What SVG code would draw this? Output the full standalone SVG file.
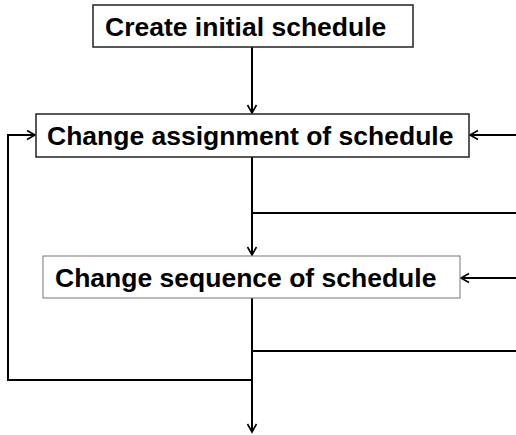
<svg xmlns="http://www.w3.org/2000/svg" width="516" height="435" viewBox="0 0 516 435">
<style>
.box{fill:#fff;stroke:#222;stroke-width:1.5}
.lbl{font-family:"Liberation Sans",Arial,sans-serif;font-weight:bold;font-size:26.5px;fill:#000}
.ln{fill:none;stroke:#000;stroke-width:2}
</style>
<defs>
<marker id="ah" markerUnits="userSpaceOnUse" markerWidth="12" markerHeight="12" refX="9" refY="5.5" orient="auto">
<path d="M1,1 L9,5.5 L1,10" fill="none" stroke="#000" stroke-width="1.6"/>
</marker>
</defs>
<rect width="516" height="435" fill="#fff"/>
<g id="connectors">
<line class="ln" x1="252" y1="47" x2="252" y2="113" marker-end="url(#ah)"/>
<line class="ln" x1="252" y1="157" x2="252" y2="255" marker-end="url(#ah)"/>
<line class="ln" x1="252" y1="298" x2="252" y2="432" marker-end="url(#ah)"/>
<polyline class="ln" points="252,380 8,380 8,135 35,135" marker-end="url(#ah)"/>
<line class="ln" x1="516" y1="135" x2="470" y2="135" marker-end="url(#ah)"/>
<line class="ln" x1="516" y1="278" x2="461" y2="278" marker-end="url(#ah)"/>
<line class="ln" x1="252" y1="213" x2="516" y2="213"/>
<line class="ln" x1="252" y1="351" x2="516" y2="351"/>
</g>
<g id="create">
<rect class="box" x="93" y="5" width="320" height="42"/>
<text class="lbl" x="105" y="36">Create initial schedule</text>
</g>
<g id="assign">
<rect class="box" x="36" y="114" width="433" height="43"/>
<text class="lbl" x="47" y="145">Change assignment of schedule</text>
</g>
<g id="sequence">
<rect class="box" x="43" y="256" width="417" height="42" style="stroke:#777;stroke-width:1"/>
<text class="lbl" x="55" y="287">Change sequence of schedule</text>
</g>
</svg>
